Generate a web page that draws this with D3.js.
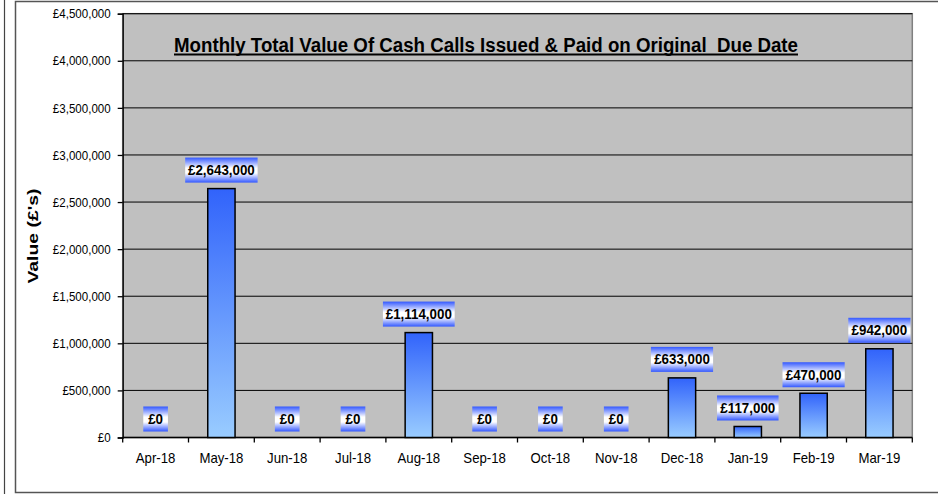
<!DOCTYPE html>
<html>
<head>
<meta charset="utf-8">
<script src="https://cdn.jsdelivr.net/npm/d3@7"></script>
<style>
  html, body { margin: 0; padding: 0; background: #ffffff; }
  svg { display: block; font-family: "Liberation Sans", Arial, sans-serif; }
</style>
</head>
<body>
<svg id="chart" width="938" height="494"></svg>
<script>
const months = ["Apr-18","May-18","Jun-18","Jul-18","Aug-18","Sep-18","Oct-18","Nov-18","Dec-18","Jan-19","Feb-19","Mar-19"];
const values = [0, 2643000, 0, 0, 1114000, 0, 0, 0, 633000, 117000, 470000, 942000];
const yTickValues = [0, 500000, 1000000, 1500000, 2000000, 2500000, 3000000, 3500000, 4000000, 4500000];
const titleText = "Monthly Total Value Of Cash Calls Issued & Paid on Original\u00a0 Due Date";
const yAxisTitle = "Value (£'s)";

const svg = d3.select("#chart");
const W = 938, H = 494;
const plot = { left: 122.7, right: 912.3, top: 13.7, bottom: 437.5 };

const fmt = v => "£" + d3.format(",")(v);
// the source renders its Arial slightly narrow: compress text horizontally
function squeeze(sel, factor) {
  sel.each(function () {
    const w = this.getComputedTextLength();
    d3.select(this).attr("textLength", w * factor).attr("lengthAdjust", "spacingAndGlyphs");
  });
}

const x = d3.scaleBand().domain(months).range([plot.left, plot.right]).paddingInner(0).paddingOuter(0);
const y = d3.scaleLinear().domain([0, 4500000]).range([plot.bottom, plot.top]);

// gradients
const defs = svg.append("defs");
const gBar = defs.append("linearGradient").attr("id", "barGrad").attr("x1", 0).attr("y1", 0).attr("x2", 0).attr("y2", 1);
gBar.append("stop").attr("offset", "0%").attr("stop-color", "#3163fb");
gBar.append("stop").attr("offset", "100%").attr("stop-color", "#99ccff");
const gLab = defs.append("linearGradient").attr("id", "labGrad").attr("x1", 0).attr("y1", 0).attr("x2", 0).attr("y2", 1);
gLab.append("stop").attr("offset", "0%").attr("stop-color", "#3358ff");
gLab.append("stop").attr("offset", "42%").attr("stop-color", "#ffffff");
gLab.append("stop").attr("offset", "62%").attr("stop-color", "#ffffff");
gLab.append("stop").attr("offset", "100%").attr("stop-color", "#3358ff");

// outer frames
svg.append("line").attr("x1", 4.5).attr("x2", 4.5).attr("y1", 0).attr("y2", H)
  .attr("stroke", "#444").attr("stroke-width", 1.2);
svg.append("rect").attr("x", 15.5).attr("y", 1.5).attr("width", W + 10).attr("height", 491)
  .attr("fill", "#ffffff").attr("stroke", "#555").attr("stroke-width", 1.5);

// plot area
svg.append("rect").attr("x", plot.left).attr("y", plot.top)
  .attr("width", plot.right - plot.left).attr("height", plot.bottom - plot.top)
  .attr("fill", "#c0c0c0").attr("stroke", "#808080").attr("stroke-width", 1.5);

// gridlines
svg.append("g").selectAll("line").data(yTickValues.filter(v => v > 0)).join("line")
  .attr("x1", plot.left).attr("x2", plot.right)
  .attr("y1", d => y(d)).attr("y2", d => y(d))
  .attr("stroke", "#000").attr("stroke-width", 1);

// y axis
const yAxis = d3.axisLeft(y).tickValues(yTickValues).tickSize(5).tickPadding(7).tickFormat(fmt);
const yg = svg.append("g").attr("transform", `translate(${plot.left},0)`).call(yAxis);
yg.select(".domain").attr("stroke", "#000").attr("stroke-width", 1.3);
yg.selectAll(".tick line").attr("stroke", "#000").attr("stroke-width", 1.3);
yg.selectAll(".tick text").attr("font-size", 13).attr("fill", "#000")
  .attr("font-family", "'Liberation Sans', Arial, sans-serif");
squeeze(yg.selectAll(".tick text"), 0.89);

// x axis (labels at band centres)
const xAxis = d3.axisBottom(x).tickSize(0).tickPadding(15);
const xg = svg.append("g").attr("transform", `translate(0,${plot.bottom})`).call(xAxis);
xg.select(".domain").remove();
xg.selectAll(".tick text").attr("font-size", 14.5).attr("fill", "#000")
  .attr("font-family", "'Liberation Sans', Arial, sans-serif");
squeeze(xg.selectAll(".tick text"), 0.91);
// x axis line and boundary ticks
svg.append("line").attr("x1", plot.left).attr("x2", plot.right)
  .attr("y1", plot.bottom).attr("y2", plot.bottom).attr("stroke", "#000").attr("stroke-width", 1.3);
const bounds = months.map(m => x(m)).concat([x(months[months.length - 1]) + x.bandwidth()]);
svg.append("g").selectAll("line").data(bounds).join("line")
  .attr("x1", d => d).attr("x2", d => d)
  .attr("y1", plot.bottom).attr("y2", plot.bottom + 5)
  .attr("stroke", "#000").attr("stroke-width", 1.3);

// bars
const barW = x.bandwidth() * 0.415;
svg.append("g").selectAll("rect").data(values.map((v, i) => ({ m: months[i], v })).filter(d => d.v > 0)).join("rect")
  .attr("x", d => x(d.m) + x.bandwidth() / 2 - barW / 2)
  .attr("y", d => y(d.v))
  .attr("width", barW)
  .attr("height", d => y(0) - y(d.v))
  .attr("fill", "url(#barGrad)")
  .attr("stroke", "#000").attr("stroke-width", 1.5);

// data labels
const lg = svg.append("g");
values.forEach((v, i) => {
  const cx = x(months[i]) + x.bandwidth() / 2;
  const boxH = 25, gap = 6, pad = 5.5;
  const boxBottom = y(v) - gap;
  const g = lg.append("g");
  const rect = g.append("rect").attr("fill", "url(#labGrad)");
  const t = g.append("text").text(fmt(v))
    .attr("x", cx).attr("y", boxBottom - boxH / 2)
    .attr("text-anchor", "middle").attr("dominant-baseline", "central")
    .attr("font-size", 14.5).attr("font-weight", "bold").attr("fill", "#000");
  squeeze(t, 0.92);
  const tw = t.node().getComputedTextLength() * 0.92;
  rect.attr("x", cx - tw / 2 - pad).attr("y", boxBottom - boxH)
    .attr("width", tw + 2 * pad).attr("height", boxH);
});

// title
const tX = 174, tW = 624;
svg.append("text").text(titleText)
  .attr("x", tX).attr("y", 51.5)
  .attr("font-size", 20).attr("font-weight", "bold").attr("fill", "#000")
  .attr("textLength", tW).attr("lengthAdjust", "spacingAndGlyphs");
svg.append("line").attr("x1", tX).attr("x2", tX + tW).attr("y1", 54.5).attr("y2", 54.5)
  .attr("stroke", "#000").attr("stroke-width", 2);

// y axis title
svg.append("text").text(yAxisTitle)
  .attr("transform", "translate(37.5,236) rotate(-90)")
  .attr("text-anchor", "middle")
  .attr("font-size", 15).attr("font-weight", "bold").attr("fill", "#000")
  .attr("textLength", 95).attr("lengthAdjust", "spacingAndGlyphs");
</script>
</body>
</html>
